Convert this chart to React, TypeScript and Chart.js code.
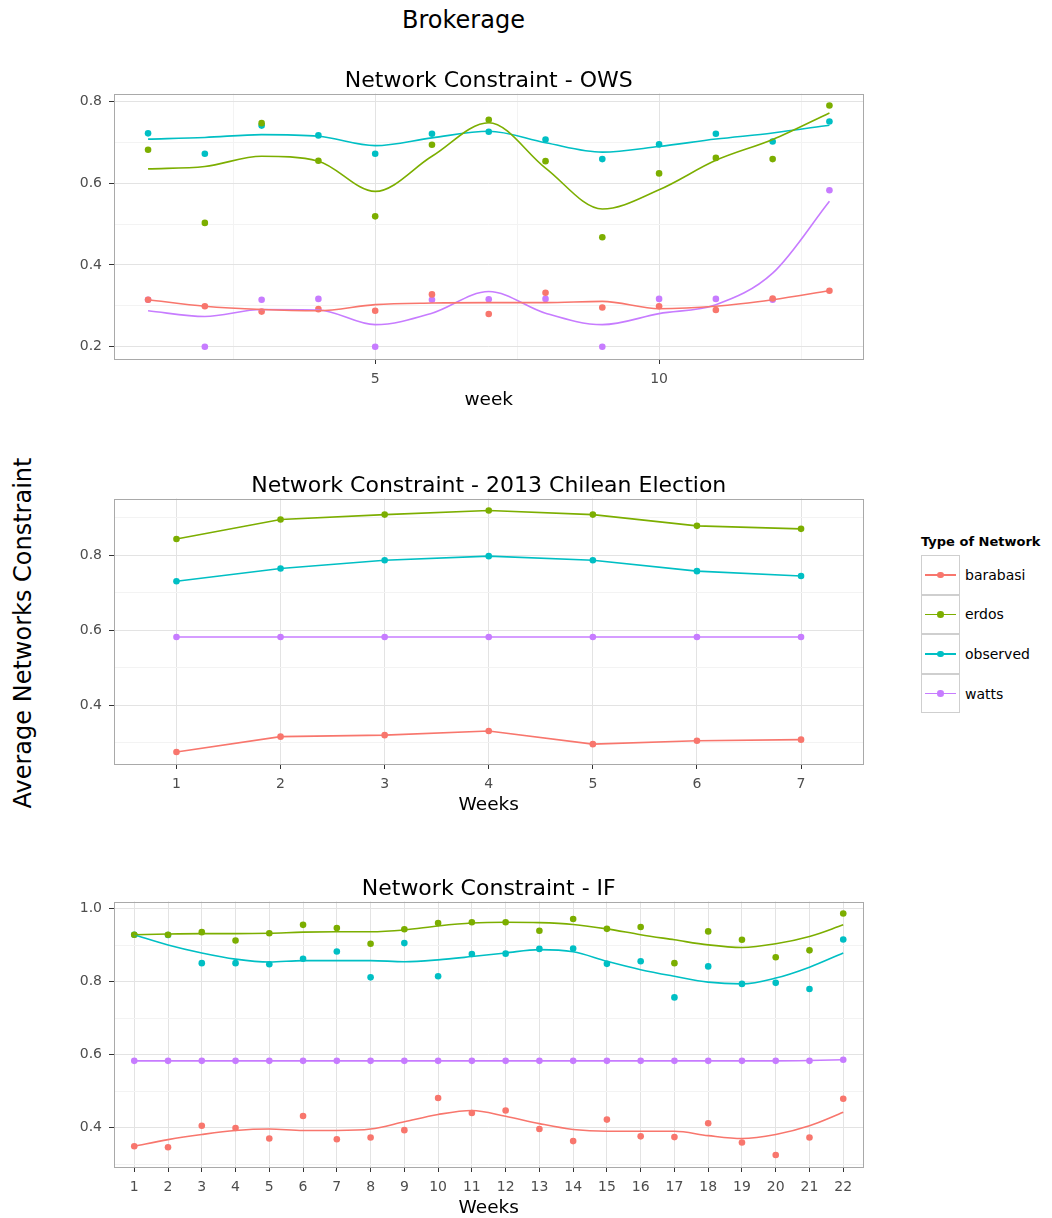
import React, { useEffect, useRef } from 'react';
import { Chart, registerables } from 'chart.js';

Chart.register(...registerables);
Chart.defaults.font.family = "'DejaVu Sans', sans-serif";

// ---------- series ----------
const SERIES = ['barabasi', 'erdos', 'observed', 'watts'];
const COLORS = ['#F8766D', '#7CAE00', '#00BFC4', '#C77CFF'];

// ---------- OWS ----------
const OWS_WEEKS = [1, 2, 3, 4, 5, 6, 7, 8, 9, 10, 11, 12, 13];
const OWS_BARABASI = [0.315, 0.299, 0.286, 0.292, 0.288, 0.328, 0.280, 0.332, 0.296, 0.299, 0.290, 0.318, 0.337];
const OWS_ERDOS = [0.682, 0.503, 0.747, 0.655, 0.519, 0.694, 0.755, 0.654, 0.468, 0.624, 0.662, 0.659, 0.790];
const OWS_OBSERVED = [0.722, 0.672, 0.741, 0.717, 0.672, 0.721, 0.726, 0.707, 0.659, 0.695, 0.721, 0.702, 0.751];
const OWS_WATTS = [0.315, 0.200, 0.315, 0.317, 0.200, 0.315, 0.316, 0.317, 0.200, 0.317, 0.317, 0.315, 0.583];
const OWS_BARABASI_SMOOTH = [0.315, 0.299, 0.291, 0.288, 0.303, 0.307, 0.308, 0.308, 0.311, 0.293, 0.299, 0.315, 0.337];
const OWS_ERDOS_SMOOTH = [0.635, 0.641, 0.666, 0.654, 0.580, 0.666, 0.748, 0.637, 0.537, 0.584, 0.656, 0.707, 0.772];
const OWS_OBSERVED_SMOOTH = [0.708, 0.712, 0.719, 0.715, 0.692, 0.711, 0.727, 0.699, 0.676, 0.690, 0.708, 0.723, 0.742];
const OWS_WATTS_SMOOTH = [0.288, 0.274, 0.291, 0.290, 0.254, 0.282, 0.335, 0.282, 0.254, 0.281, 0.303, 0.380, 0.556];
const OWS_X_GRID = [2.5, 5, 7.5, 10, 12.5];
const OWS_X_MAJOR = [5, 10];
const OWS_X_LABELS = ['5', '10'];
const OWS_Y_GRID = [0.2, 0.3, 0.4, 0.5, 0.6, 0.7, 0.8];
const OWS_Y_MAJOR = [0.2, 0.4, 0.6, 0.8];
const OWS_Y_LABELS = ['0.2', '0.4', '0.6', '0.8'];

// ---------- 2013 Chilean Election ----------
const CHILE_WEEKS = [1, 2, 3, 4, 5, 6, 7];
const CHILE_BARABASI = [0.275, 0.316, 0.320, 0.331, 0.296, 0.305, 0.308];
const CHILE_ERDOS = [0.844, 0.896, 0.909, 0.920, 0.909, 0.879, 0.871];
const CHILE_OBSERVED = [0.731, 0.765, 0.787, 0.798, 0.787, 0.758, 0.745];
const CHILE_WATTS = [0.582, 0.582, 0.582, 0.582, 0.582, 0.582, 0.582];
const CHILE_X_LABELS = ['1', '2', '3', '4', '5', '6', '7'];
const CHILE_Y_GRID = [0.3, 0.4, 0.5, 0.6, 0.7, 0.8, 0.9];
const CHILE_Y_MAJOR = [0.4, 0.6, 0.8];
const CHILE_Y_LABELS = ['0.4', '0.6', '0.8'];

// ---------- IF ----------
const IF_WEEKS = [1, 2, 3, 4, 5, 6, 7, 8, 9, 10, 11, 12, 13, 14, 15, 16, 17, 18, 19, 20, 21, 22];
const IF_BARABASI = [0.349, 0.346, 0.405, 0.399, 0.370, 0.432, 0.368, 0.373, 0.393, 0.481, 0.440, 0.447, 0.396, 0.363, 0.422, 0.376, 0.374, 0.412, 0.359, 0.325, 0.373, 0.479];
const IF_ERDOS = [0.929, 0.929, 0.936, 0.913, 0.933, 0.956, 0.947, 0.904, 0.944, 0.961, 0.963, 0.963, 0.940, 0.972, 0.945, 0.950, 0.851, 0.938, 0.915, 0.867, 0.886, 0.987];
const IF_OBSERVED = [0.929, 0.928, 0.851, 0.851, 0.848, 0.863, 0.883, 0.812, 0.906, 0.815, 0.876, 0.877, 0.890, 0.891, 0.849, 0.856, 0.757, 0.842, 0.794, 0.797, 0.780, 0.916];
const IF_WATTS = [0.583, 0.583, 0.583, 0.583, 0.583, 0.583, 0.583, 0.583, 0.583, 0.583, 0.583, 0.583, 0.583, 0.583, 0.583, 0.583, 0.583, 0.583, 0.583, 0.583, 0.583, 0.586];
const IF_BARABASI_SMOOTH = [0.349, 0.367, 0.381, 0.392, 0.396, 0.392, 0.392, 0.396, 0.416, 0.436, 0.447, 0.431, 0.411, 0.395, 0.390, 0.390, 0.390, 0.378, 0.370, 0.381, 0.405, 0.442];
const IF_ERDOS_SMOOTH = [0.929, 0.931, 0.932, 0.932, 0.933, 0.936, 0.937, 0.937, 0.942, 0.953, 0.961, 0.963, 0.962, 0.957, 0.945, 0.929, 0.915, 0.901, 0.894, 0.904, 0.924, 0.956];
const IF_OBSERVED_SMOOTH = [0.929, 0.901, 0.879, 0.862, 0.854, 0.858, 0.858, 0.858, 0.855, 0.860, 0.869, 0.879, 0.888, 0.882, 0.856, 0.833, 0.815, 0.799, 0.794, 0.810, 0.840, 0.879];
const IF_WATTS_SMOOTH = [0.583, 0.583, 0.583, 0.583, 0.583, 0.583, 0.583, 0.583, 0.583, 0.583, 0.583, 0.583, 0.583, 0.583, 0.583, 0.583, 0.583, 0.583, 0.583, 0.583, 0.584, 0.586];
const IF_X_LABELS = IF_WEEKS.map(String);
const IF_Y_GRID = [0.3, 0.4, 0.5, 0.6, 0.7, 0.8, 0.9, 1.0];
const IF_Y_MAJOR = [0.4, 0.6, 0.8, 1.0];
const IF_Y_LABELS = ['0.4', '0.6', '0.8', '1.0'];

type PanelCfg = {
  title: string;
  xTitle: string;
  top: number;
  xMin: number; xMax: number;
  xGrid: number[]; xMajor: number[]; xLabels: string[];
  yMin: number; yMax: number;
  yGrid: number[]; yMajor: number[]; yLabels: string[];
  weeks: number[];
  points: number[][];
  lines: number[][];
  smooth: boolean;
};

const PANELS: PanelCfg[] = [
  {
    title: 'Network Constraint - OWS', xTitle: 'week', top: 66,
    xMin: 0.4, xMax: 13.6, xGrid: OWS_X_GRID, xMajor: OWS_X_MAJOR, xLabels: OWS_X_LABELS,
    yMin: 0.17, yMax: 0.8195, yGrid: OWS_Y_GRID, yMajor: OWS_Y_MAJOR, yLabels: OWS_Y_LABELS,
    weeks: OWS_WEEKS,
    points: [OWS_BARABASI, OWS_ERDOS, OWS_OBSERVED, OWS_WATTS],
    lines: [OWS_BARABASI_SMOOTH, OWS_ERDOS_SMOOTH, OWS_OBSERVED_SMOOTH, OWS_WATTS_SMOOTH],
    smooth: true,
  },
  {
    title: 'Network Constraint - 2013 Chilean Election', xTitle: 'Weeks', top: 471,
    xMin: 0.4, xMax: 7.6, xGrid: CHILE_WEEKS, xMajor: CHILE_WEEKS, xLabels: CHILE_X_LABELS,
    yMin: 0.243, yMax: 0.952, yGrid: CHILE_Y_GRID, yMajor: CHILE_Y_MAJOR, yLabels: CHILE_Y_LABELS,
    weeks: CHILE_WEEKS,
    points: [CHILE_BARABASI, CHILE_ERDOS, CHILE_OBSERVED, CHILE_WATTS],
    lines: [CHILE_BARABASI, CHILE_ERDOS, CHILE_OBSERVED, CHILE_WATTS],
    smooth: false,
  },
  {
    title: 'Network Constraint - IF', xTitle: 'Weeks', top: 874,
    xMin: 0.4, xMax: 22.6, xGrid: IF_WEEKS, xMajor: IF_WEEKS, xLabels: IF_X_LABELS,
    yMin: 0.292, yMax: 1.02, yGrid: IF_Y_GRID, yMajor: IF_Y_MAJOR, yLabels: IF_Y_LABELS,
    weeks: IF_WEEKS,
    points: [IF_BARABASI, IF_ERDOS, IF_OBSERVED, IF_WATTS],
    lines: [IF_BARABASI_SMOOTH, IF_ERDOS_SMOOTH, IF_OBSERVED_SMOOTH, IF_WATTS_SMOOTH],
    smooth: true,
  },
];

const CANVAS_LEFT = 40;
const CANVAS_W = 840;
const CANVAS_H = 343;

const near = (arr: number[], v: number) => arr.findIndex((a) => Math.abs(a - v) < 1e-6);

const borderPlugin = {
  id: 'panelBorder',
  afterDraw(chart: any) {
    const { ctx, chartArea: a } = chart;
    ctx.save();
    ctx.strokeStyle = '#a9a9a9';
    ctx.lineWidth = 1;
    ctx.strokeRect(Math.round(a.left) + 0.5, Math.round(a.top) + 0.5, Math.round(a.right - a.left) - 1, Math.round(a.bottom - a.top) - 1);
    ctx.restore();
  },
};

function buildChart(canvas: HTMLCanvasElement, cfg: PanelCfg) {
  const datasets: any[] = [];
  SERIES.forEach((name, i) => {
    datasets.push({
      label: name + ' line',
      data: cfg.weeks.map((w, k) => ({ x: w, y: cfg.lines[i][k] })),
      showLine: true,
      borderColor: COLORS[i],
      backgroundColor: COLORS[i],
      borderWidth: 1.6,
      pointRadius: 0,
      fill: false,
      cubicInterpolationMode: cfg.smooth ? 'monotone' : 'default',
      tension: 0,
      order: i,
    });
  });
  SERIES.forEach((name, i) => {
    datasets.push({
      label: name,
      data: cfg.weeks.map((w, k) => ({ x: w, y: cfg.points[i][k] })),
      showLine: false,
      pointRadius: 3.3,
      pointBorderWidth: 0,
      pointBackgroundColor: COLORS[i],
      pointBorderColor: COLORS[i],
      order: 10 + i,
    });
  });

  const gridColor = (major: number[]) => (ctx: any) =>
    near(major, ctx.tick ? ctx.tick.value : NaN) >= 0 ? '#e3e3e3' : '#f3f3f3';
  const tickColor = (major: number[]) => (ctx: any) =>
    near(major, ctx.tick ? ctx.tick.value : NaN) >= 0 ? '#333333' : 'rgba(0,0,0,0)';

  return new Chart(canvas, {
    type: 'scatter',
    data: { datasets },
    plugins: [borderPlugin],
    options: {
      animation: false,
      responsive: false,
      devicePixelRatio: 1,
      events: [],
      layout: { padding: { left: 0, right: CANVAS_W + CANVAS_LEFT - 863.5, top: 0, bottom: 0 } },
      plugins: {
        legend: { display: false },
        tooltip: { enabled: false },
        title: {
          display: true,
          text: cfg.title,
          fullSize: false,
          color: '#000000',
          font: { size: 22, weight: 'normal', lineHeight: 1 },
          padding: { top: 4, bottom: 1.5 },
        },
      },
      scales: {
        x: {
          type: 'linear',
          min: cfg.xMin,
          max: cfg.xMax,
          afterBuildTicks: (s: any) => { s.ticks = cfg.xGrid.map((v) => ({ value: v })); },
          afterFit: (s: any) => { s.height = 50; },
          ticks: {
            autoSkip: false,
            maxRotation: 0,
            minRotation: 0,
            padding: 7,
            color: '#4d4d4d',
            font: { size: 14, lineHeight: 1.2 },
            callback: (v: any) => {
              const idx = near(cfg.xMajor, Number(v));
              return idx >= 0 ? cfg.xLabels[idx] : '';
            },
          },
          grid: { color: gridColor(cfg.xMajor), tickColor: tickColor(cfg.xMajor), tickLength: 5, lineWidth: 1 },
          border: { display: false },
          title: {
            display: true,
            text: cfg.xTitle,
            color: '#000000',
            font: { size: 18.5, lineHeight: 1 },
            padding: { top: 0, bottom: 0 },
          },
        },
        y: {
          type: 'linear',
          min: cfg.yMin,
          max: cfg.yMax,
          afterBuildTicks: (s: any) => { s.ticks = cfg.yGrid.map((v) => ({ value: v })); },
          afterFit: (s: any) => { s.width = 114 - CANVAS_LEFT; },
          ticks: {
            padding: 7,
            color: '#4d4d4d',
            font: { size: 14, lineHeight: 1.2 },
            callback: (v: any) => {
              const idx = near(cfg.yMajor, Number(v));
              return idx >= 0 ? cfg.yLabels[idx] : '';
            },
          },
          grid: { color: gridColor(cfg.yMajor), tickColor: tickColor(cfg.yMajor), tickLength: 5, lineWidth: 1 },
          border: { display: false },
        },
      },
    } as any,
  });
}

const LEGEND_TOP = 555;
const LEGEND_KEY_H = 39.6;

export default function App() {
  const refs = [useRef<HTMLCanvasElement>(null), useRef<HTMLCanvasElement>(null), useRef<HTMLCanvasElement>(null)];

  useEffect(() => {
    const charts = PANELS.map((cfg, i) => buildChart(refs[i].current as HTMLCanvasElement, cfg));
    return () => charts.forEach((c) => c.destroy());
  }, []);

  return (
    <div
      style={{
        position: 'absolute', left: 0, top: 0, width: 1052, height: 1218, overflow: 'hidden',
        background: '#ffffff', fontFamily: "'DejaVu Sans', sans-serif", color: '#000',
      }}
    >
      <div style={{ position: 'absolute', left: 463.5, top: 7.7, fontSize: 24, lineHeight: '24px', transform: 'translateX(-50%)', whiteSpace: 'nowrap' }}>
        Brokerage
      </div>
      <div style={{ position: 'absolute', left: 23, top: 632.5, fontSize: 24, lineHeight: '24px', transform: 'translate(-50%, -50%) rotate(-90deg)', whiteSpace: 'nowrap' }}>
        Average Networks Constraint
      </div>
      {PANELS.map((cfg, i) => (
        <canvas
          key={i}
          ref={refs[i]}
          width={CANVAS_W}
          height={CANVAS_H}
          style={{ position: 'absolute', left: CANVAS_LEFT, top: cfg.top, width: CANVAS_W, height: CANVAS_H, display: 'block' }}
        />
      ))}
      <div style={{ position: 'absolute', left: 921, top: 534.8, fontSize: 13, lineHeight: '13px', fontWeight: 'bold', whiteSpace: 'nowrap' }}>
        Type of Network
      </div>
      {SERIES.map((name, i) => {
        const top = LEGEND_TOP + i * LEGEND_KEY_H;
        return (
          <React.Fragment key={name}>
            <div style={{ position: 'absolute', left: 921, top, width: 39, height: LEGEND_KEY_H, boxSizing: 'border-box', border: '1px solid #cfcfcf', background: '#fff' }}>
              <div style={{ position: 'absolute', left: 3, width: 31, top: LEGEND_KEY_H / 2 - 1.8, height: 1.6, background: COLORS[i] }} />
              <div style={{ position: 'absolute', left: 15.2, top: LEGEND_KEY_H / 2 - 4.3, width: 6.6, height: 6.6, borderRadius: '50%', background: COLORS[i] }} />
            </div>
            <div style={{ position: 'absolute', left: 965, top: top + LEGEND_KEY_H / 2 - 7, fontSize: 14, lineHeight: '14px', color: '#000', whiteSpace: 'nowrap' }}>
              {name}
            </div>
          </React.Fragment>
        );
      })}
    </div>
  );
}
